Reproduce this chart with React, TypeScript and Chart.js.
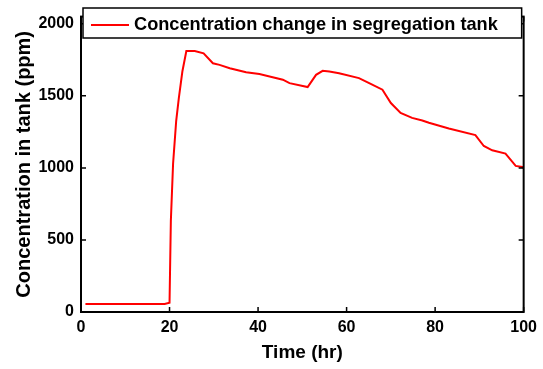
import React, { useEffect, useRef } from "react";
import { Chart, registerables } from "chart.js";

Chart.register(...registerables);

const times = [1, 10, 18.9, 20, 20.3, 20.8, 21.5, 22.1, 22.9, 23.8, 25.7, 27.7, 29.8, 31.3, 33.6, 37.3, 40.3, 45.6, 47.1, 51.2, 53.1, 54.6, 56.1, 58.3, 62.8, 65.1, 68.1, 70, 72.2, 74.8, 77.1, 78.6, 83.1, 89.1, 91, 92.9, 95.9, 98.2, 99.7, 100];
const concentration = [55, 55, 55, 64, 634, 1028, 1324, 1485, 1669, 1811, 1811, 1795, 1726, 1715, 1692, 1664, 1651, 1612, 1588, 1561, 1646, 1674, 1669, 1657, 1623, 1588, 1543, 1450, 1381, 1347, 1329, 1313, 1274, 1228, 1152, 1122, 1099, 1014, 1007, 1000];
const xTicks = [0, 20, 40, 60, 80, 100];
const yTicks = [0, 500, 1000, 1500, 2000];
const seriesLabel = "Concentration change in segregation tank";

const FONT = "'Liberation Sans', Arial, sans-serif";

const framePlugin = {
  id: "frame",
  afterDraw(chart: any) {
    const { ctx, chartArea: a, scales } = chart;
    ctx.save();
    ctx.strokeStyle = "#000";
    ctx.lineWidth = 1.5;
    const tl = 5;
    ctx.beginPath();
    for (const v of xTicks) {
      const px = scales.x.getPixelForValue(v);
      ctx.moveTo(px, a.bottom);
      ctx.lineTo(px, a.bottom - tl);
      ctx.moveTo(px, a.top);
      ctx.lineTo(px, a.top + tl);
    }
    for (const v of yTicks) {
      const py = scales.y.getPixelForValue(v);
      ctx.moveTo(a.left, py);
      ctx.lineTo(a.left + tl, py);
      ctx.moveTo(a.right, py);
      ctx.lineTo(a.right - tl, py);
    }
    ctx.stroke();
    ctx.lineWidth = 2;
    ctx.strokeRect(a.left, a.top, a.right - a.left, a.bottom - a.top);

    const bx = a.left + 2, by = 8, bw = a.right - a.left - 4, bh = 30;
    ctx.fillStyle = "#fff";
    ctx.fillRect(bx, by, bw, bh);
    ctx.lineWidth = 1.5;
    ctx.strokeStyle = "#000";
    ctx.strokeRect(bx, by, bw, bh);
    ctx.strokeStyle = "#ff0000";
    ctx.lineWidth = 2;
    ctx.beginPath();
    ctx.moveTo(bx + 8, by + 17);
    ctx.lineTo(bx + 46, by + 17);
    ctx.stroke();
    ctx.fillStyle = "#000";
    ctx.font = `bold 18.2px ${FONT}`;
    ctx.textBaseline = "middle";
    ctx.textAlign = "left";
    ctx.fillText(seriesLabel, bx + 51, by + 17);
    ctx.restore();
  },
};

export default function App() {
  const ref = useRef<HTMLCanvasElement | null>(null);
  useEffect(() => {
    if (!ref.current) return;
    const data = times.map((t, i) => ({ x: t, y: concentration[i] }));
    const chart = new Chart(ref.current, {
      type: "line",
      data: {
        datasets: [
          {
            label: seriesLabel,
            data,
            borderColor: "#ff0000",
            borderWidth: 2,
            pointRadius: 0,
            tension: 0,
            fill: false,
          },
        ],
      },
      options: {
        animation: false,
        responsive: false,
        maintainAspectRatio: false,
        layout: { padding: { left: 0, right: 18, top: 15, bottom: 0 } },
        plugins: { legend: { display: false }, tooltip: { enabled: false } },
        scales: {
          x: {
            type: "linear",
            min: 0,
            max: 100,
            afterBuildTicks: (s: any) => {
              s.ticks = xTicks.map((v) => ({ value: v }));
            },
            afterFit: (s: any) => {
              s.height = 57;
            },
            grid: { display: false, drawTicks: false },
            border: { display: false },
            ticks: {
              color: "#000",
              font: { family: FONT, size: 16, weight: "bold" },
              padding: 6,
              maxRotation: 0,
              callback: (v: any) => String(v),
            },
            title: {
              display: true,
              text: "Time (hr)",
              color: "#000",
              font: { family: FONT, size: 19, weight: "bold" },
              padding: { top: 0, bottom: 5 },
            },
          },
          y: {
            min: 0,
            max: 2050,
            afterBuildTicks: (s: any) => {
              s.ticks = yTicks.map((v) => ({ value: v }));
            },
            afterFit: (s: any) => {
              s.width = 81;
            },
            grid: { display: false, drawTicks: false },
            border: { display: false },
            ticks: {
              color: "#000",
              font: { family: FONT, size: 16, weight: "bold" },
              padding: 7,
              callback: (v: any) => String(v),
            },
            title: {
              display: true,
              text: "Concentration in tank (ppm)",
              color: "#000",
              font: { family: FONT, size: 20, weight: "bold" },
              padding: { top: 12, bottom: 0 },
            },
          },
        },
      },
      plugins: [framePlugin],
    });
    return () => chart.destroy();
  }, []);
  return (
    <div style={{ position: "fixed", left: 0, top: 0, width: 543, height: 369, background: "#fff" }}>
      <canvas ref={ref} width={543} height={369} style={{ display: "block" }} />
    </div>
  );
}
